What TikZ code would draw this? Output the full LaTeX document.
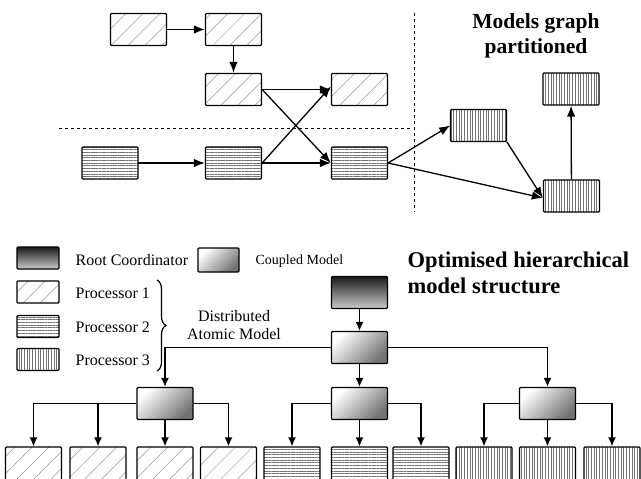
\documentclass[tikz,border=0pt]{standalone}
\usepackage{fontspec}
\setmainfont{Liberation Serif}
\usetikzlibrary{arrows.meta,patterns.meta,decorations.pathreplacing}
\begin{document}
\begin{tikzpicture}[x=1pt,y=-1pt,>={Latex[length=11pt,width=8.5pt]},line width=1.3pt,
    box/.style={draw,line width=1.3pt,rounded corners=1pt,minimum width=56pt,minimum height=32pt,inner sep=0pt},
    procA/.style={box,pattern={Lines[angle=45,distance=12pt,line width=0.5pt]},pattern color=black!40},
    procB/.style={box,pattern={Lines[angle=0,distance=2.7pt,line width=0.6pt]},pattern color=black!55},
    procC/.style={box,pattern={Lines[angle=90,distance=2.7pt,line width=0.6pt]},pattern color=black!55},
    rootbox/.style={box,top color=black!90,bottom color=black!20},
    coupled/.style={box,top color=white,bottom color=black!55,shading angle=45},
    swatch/.style={minimum width=42pt,minimum height=22pt},
    leaf/.style={minimum height=36pt},
    tree/.style={->,>={Latex[length=9pt,width=8pt]}},
    legend/.style={anchor=west,inner sep=0pt,font=\fontsize{16}{18}\selectfont},
    title/.style={inner sep=0pt,font=\fontsize{21.5}{25}\selectfont\bfseries}]
    \useasboundingbox (0,0) rectangle (641,479);
    \clip (0,0) rectangle (641,479);
    % partitioned models graph
    \node[procA] (a1) at (138.5,29.5) {};
    \node[procA] (a2) at (233.5,29.5) {};
    \node[procA] (a3) at (233.5,89.5) {};
    \node[procA] (a4) at (359.5,89.5) {};
    \node[procB] (b1) at (110,163) {};
    \node[procB] (b2) at (233.5,163) {};
    \node[procB] (b3) at (359.5,163) {};
    \node[procC] (c1) at (478.5,125.5) {};
    \node[procC] (c2) at (571,89) {};
    \node[procC] (c3) at (571.5,196) {};
    \draw[->] (a1) -- (a2);
    \draw[->] (a2) -- (a3);
    \draw[->] (a3.east) -- (a4.west);
    \draw[->] (a3.east) -- (b3.west);
    \draw[->] (b2.east) -- ([yshift=3pt]a4.west);
    \draw[->] (b1) -- (b2);
    \draw[->] (b2) -- (b3);
    \draw[->] (b3.east) -- (c1.west);
    \draw[->] (b3.east) -- ([yshift=-2pt]c3.west);
    \draw[->] (c1.south east) -- ([yshift=-2pt]c3.west);
    \draw[->] (c3) -- (c2);
    \draw[line width=1pt,dash pattern=on 3pt off 3pt] (59,128) -- (412,128);
    \draw[line width=1pt,dash pattern=on 3pt off 3pt] (414,13) -- (414,212);
    \node[title,align=center] (gtitle) at (536,35.5) {Models graph\\partitioned};
    % legend
    \node[rootbox,swatch] (lroot) at (38,258) {};
    \node[legend] (troot) at (75,260) {Root Coordinator};
    \node[coupled,swatch,minimum height=24pt,minimum width=41pt] (lcoup) at (218.5,260) {};
    \node[legend,font=\fontsize{14}{16}\selectfont] (tcoup) at (255,261) {Coupled Model};
    \node[procA,swatch] (lp1) at (38,292) {};
    \node[legend] (tp1) at (75,293) {Processor 1};
    \node[procB,swatch] (lp2) at (38,326.5) {};
    \node[legend] (tp2) at (75,327) {Processor 2};
    \node[procC,swatch] (lp3) at (38,359.5) {};
    \node[legend] (tp3) at (75,360) {Processor 3};
    \coordinate (btop) at (157,280);
    \coordinate (bbot) at (157,371);
    \draw[line width=1.2pt,decorate,decoration={brace,amplitude=9pt}] (btop) -- (bbot);
    \node[align=center,inner sep=0pt,font=\fontsize{16}{18}\selectfont] (tatom) at (234,325) {Distributed\\Atomic Model};
    \node[title,align=left,anchor=west,font=\fontsize{22.5}{26}\selectfont\bfseries] (htitle) at (407,273) {Optimised hierarchical\\model structure};
    % hierarchical structure
    \node[rootbox] (r) at (359.5,292.5) {};
    \node[coupled] (k0) at (359.5,347.5) {};
    \node[coupled] (k1) at (165,403.5) {};
    \node[coupled] (k2) at (359.5,403.5) {};
    \node[coupled] (k3) at (547.5,403.5) {};
    \node[procA,leaf] (l1) at (33.5,465) {};
    \node[procA,leaf] (l2) at (98,465) {};
    \node[procA,leaf] (l3) at (165,465) {};
    \node[procA,leaf] (l4) at (228.5,465) {};
    \node[procB,leaf] (l5) at (292,465) {};
    \node[procB,leaf] (l6) at (359.5,465) {};
    \node[procB,leaf] (l7) at (421,465) {};
    \node[procC,leaf] (l8) at (484,465) {};
    \node[procC,leaf] (l9) at (547.5,465) {};
    \node[procC,leaf] (l10) at (612,465) {};
    \draw[tree] (r) -- (k0);
    \draw[tree] (k0.west) -| (k1.north);
    \draw[tree] (k0) -- (k2);
    \draw[tree] (k0.east) -| (k3.north);
    \draw[tree] (k1.west) -| (l1.north);
    \draw[tree] (k1.west) -| (l2.north);
    \draw[tree] (k1) -- (l3);
    \draw[tree] (k1.east) -| (l4.north);
    \draw[tree] (k2.west) -| (l5.north);
    \draw[tree] (k2) -- (l6);
    \draw[tree] (k2.east) -| (l7.north);
    \draw[tree] (k3.west) -| (l8.north);
    \draw[tree] (k3) -- (l9);
    \draw[tree] (k3.east) -| (l10.north);
\end{tikzpicture}
\end{document}
